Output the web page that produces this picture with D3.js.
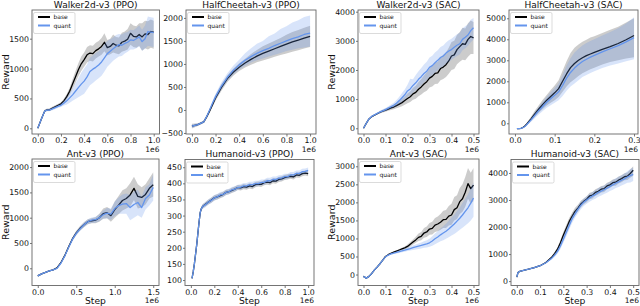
<!DOCTYPE html>
<html><head><meta charset="utf-8">
<script src="https://cdn.jsdelivr.net/npm/d3@7"></script>
<style>body{margin:0;background:#fff} svg{display:block} text{font-family:"DejaVu Sans",sans-serif;fill:#111}</style>
</head><body><svg id="c" width="640" height="306"></svg>
<script>
// ---------- DATA (steps in units of 1e6) ----------
// Walker2d-v3 (PPO)
const wppoX = [0,0.03,0.06,0.08,0.1,0.12,0.15,0.18,0.2,0.225,0.25,0.275,0.3,0.325,0.35,0.375,0.4,0.425,0.45,0.475,0.5,0.525,0.55,0.575,0.6,0.625,0.65,0.675,0.7,0.725,0.75,0.775,0.8,0.825,0.85,0.875,0.9,0.925,0.95,0.975,1.0];
const wppoBase = [0,150,290,310,310,330,360,390,410,460,530,620,740,860,980,1080,1150,1230,1260,1250,1300,1330,1370,1440,1350,1370,1420,1390,1380,1440,1460,1490,1590,1540,1530,1570,1530,1580,1570,1620,1610];
const wppoBaseLo = [0,130,270,290,290,305,335,365,385,425,485,560,660,760,870,960,1030,1100,1130,1120,1170,1200,1230,1290,1220,1240,1270,1250,1240,1280,1300,1320,1400,1360,1350,1380,1300,1340,1320,1350,1330];
const wppoBaseHi = [0,170,310,330,330,355,385,415,435,495,575,680,820,960,1090,1200,1270,1360,1390,1380,1430,1460,1510,1590,1480,1500,1570,1530,1520,1600,1620,1660,1760,1720,1710,1760,1760,1800,1790,1820,1800];
const wppoQuant = [0,150,290,305,305,320,345,370,385,420,460,510,560,620,680,740,790,860,950,990,1020,1060,1110,1180,1250,1290,1330,1370,1400,1390,1420,1440,1480,1470,1500,1530,1450,1500,1620,1610,1600];
const wppoQuantLo = [0,130,270,285,285,300,320,345,355,380,400,430,460,490,520,550,580,650,720,760,800,840,880,950,1030,1080,1130,1170,1200,1210,1250,1280,1320,1320,1340,1370,1300,1330,1380,1370,1360];
const wppoQuantHi = [0,170,310,325,325,340,370,395,415,460,520,590,660,750,840,930,1000,1070,1180,1220,1260,1290,1340,1410,1460,1490,1520,1560,1580,1570,1600,1610,1650,1640,1680,1720,1650,1720,1870,1860,1850];

// HalfCheetah-v3 (PPO)
const hppoX = [0,0.05,0.1,0.125,0.15,0.175,0.2,0.25,0.3,0.35,0.4,0.45,0.5,0.55,0.6,0.65,0.7,0.75,0.8,0.85,0.9,0.95,1.0];
const hppoBase = [-350,-320,-260,-150,-20,120,260,490,680,820,930,1020,1100,1170,1230,1280,1330,1380,1430,1480,1520,1560,1600];
const hppoBaseLo = [-400,-350,-285,-185,-60,70,200,420,610,745,845,925,985,1035,1075,1115,1155,1195,1225,1265,1300,1335,1370];
const hppoBaseHi = [-300,-290,-235,-115,20,170,320,560,750,895,1015,1115,1215,1305,1385,1445,1505,1565,1635,1695,1740,1785,1830];
const hppoQuant = [-350,-320,-260,-140,0,150,290,520,710,860,980,1080,1160,1230,1290,1340,1400,1450,1500,1550,1590,1640,1670];
const hppoQuantLo = [-390,-345,-285,-170,-40,100,230,450,630,770,880,960,1030,1080,1120,1160,1200,1240,1280,1310,1340,1360,1380];
const hppoQuantHi = [-310,-295,-235,-110,40,200,350,600,800,960,1090,1230,1340,1440,1500,1600,1660,1760,1820,1900,1950,2020,2050];

// shared SAC step grid (0 .. 0.5e6)
const sacX = [0,0.0125,0.025,0.0375,0.05,0.0625,0.075,0.0875,0.1,0.1125,0.125,0.1375,0.15,0.1625,0.175,0.1875,0.2,0.2125,0.225,0.2375,0.25,0.2625,0.275,0.2875,0.3,0.3125,0.325,0.3375,0.35,0.3625,0.375,0.3875,0.4,0.4125,0.425,0.4375,0.45,0.4625,0.475,0.4875,0.5];

// Walker2d-v3 (SAC)
const wsacBase = [0,170,320,400,450,500,550,590,620,660,700,730,780,830,880,950,1020,1080,1180,1230,1340,1420,1520,1600,1720,1780,1880,1900,2050,2100,2180,2310,2480,2520,2700,2800,2900,2880,3050,3150,3100];
const wsacBaseLo = [0,160,300,380,430,470,510,545,570,600,630,650,690,720,760,810,860,900,980,1010,1100,1160,1240,1290,1400,1430,1520,1530,1650,1690,1760,1870,2000,2030,2200,2280,2350,2330,2450,2550,2550];
const wsacBaseHi = [0,180,340,420,470,530,590,640,680,720,770,820,880,950,1010,1100,1190,1270,1390,1460,1590,1690,1810,1920,2050,2130,2250,2280,2450,2510,2600,2760,2960,3000,3200,3300,3450,3420,3600,3700,3650];
const wsacQuant = [0,170,320,410,460,510,560,600,640,690,740,790,860,950,1050,1150,1280,1350,1470,1560,1680,1770,1880,1960,2090,2150,2250,2330,2430,2480,2580,2650,2700,2780,2850,2900,3050,3120,3200,3350,3450];
const wsacQuantLo = [0,160,300,390,440,480,520,560,590,630,670,710,760,830,900,980,1080,1130,1230,1300,1410,1480,1580,1650,1760,1820,1910,1980,2080,2130,2220,2280,2340,2420,2480,2530,2680,2750,2830,2950,3050];
const wsacQuantHi = [0,180,340,430,480,540,600,650,700,760,820,880,970,1080,1210,1330,1490,1700,1680,1830,1960,2070,2190,2280,2430,2490,2600,2680,2790,2840,2940,3020,3070,3150,3230,3280,3430,3500,3570,3720,3780];

// HalfCheetah-v3 (SAC)
const hsacX = [0.005,0.01,0.015,0.02,0.025,0.03,0.04,0.05,0.06,0.07,0.08,0.09,0.1,0.11,0.12,0.13,0.14,0.15,0.16,0.17,0.18,0.19,0.2,0.22,0.24,0.26,0.28,0.3];
const hsacBase = [-250,-250,-240,-200,-130,-30,200,450,680,900,1100,1280,1450,1650,2000,2350,2650,2850,3000,3120,3220,3300,3380,3520,3650,3800,3980,4180];
const hsacBaseLo = [-260,-260,-250,-220,-160,-80,100,300,500,680,850,980,1100,1250,1500,1750,1950,2100,2250,2380,2480,2570,2650,2800,2920,3000,3080,3150];
const hsacBaseHi = [-240,-240,-230,-180,-100,20,300,600,860,1120,1350,1580,1800,2050,2500,2950,3350,3600,3750,3880,3980,4080,4150,4300,4450,4600,4800,5000];
const hsacQuant = [-250,-250,-240,-210,-150,-60,150,380,600,800,1000,1170,1330,1500,1800,2150,2420,2630,2800,2940,3050,3150,3230,3400,3550,3700,3880,4080];
const hsacQuantLo = [-260,-260,-250,-230,-180,-110,60,240,420,580,740,860,980,1100,1300,1550,1750,1900,2050,2200,2300,2400,2480,2630,2750,2850,2950,3050];
const hsacQuantHi = [-240,-240,-230,-190,-120,-10,240,520,780,1020,1260,1480,1680,1900,2300,2750,3100,3370,3550,3700,3820,3920,4000,4180,4350,4520,4750,5050];

// Ant-v3 (PPO)
const appoX = [0,0.05,0.1,0.15,0.2,0.25,0.3,0.35,0.4,0.45,0.5,0.55,0.6,0.65,0.7,0.75,0.8,0.85,0.9,0.95,1.0,1.05,1.1,1.15,1.2,1.25,1.3,1.35,1.4,1.45,1.5];
const appoBase = [-150,-110,-80,-50,-30,10,110,250,420,580,700,790,860,920,940,950,1000,1080,1100,1040,1160,1250,1340,1380,1450,1580,1420,1400,1460,1580,1650];
const appoBaseLo = [-170,-125,-92,-62,-42,-5,90,225,390,545,660,745,810,870,890,890,920,980,990,920,1000,1070,1140,1180,1220,1350,1180,1200,1260,1380,1420];
const appoBaseHi = [-130,-95,-68,-38,-18,25,130,275,450,615,740,835,910,970,990,1010,1080,1180,1210,1160,1320,1430,1540,1580,1680,1810,1660,1600,1660,1780,1900];
const appoQuant = [-150,-110,-80,-50,-30,0,100,240,410,570,690,780,860,920,950,960,1000,1060,1090,1070,1180,1240,1270,1280,1200,1260,1300,1200,1380,1450,1600];
const appoQuantLo = [-170,-125,-92,-62,-42,-15,80,215,380,535,650,735,810,870,895,900,930,980,990,960,1040,1080,1080,1080,950,1000,1050,1000,1160,1240,1340];
const appoQuantHi = [-130,-95,-68,-38,-18,15,120,265,440,605,730,825,910,970,1005,1020,1070,1140,1190,1180,1320,1400,1460,1480,1450,1520,1550,1420,1600,1660,1860];

// Humanoid-v3 (PPO)
const muppoX = [0.01,0.02,0.03,0.04,0.05,0.06,0.07,0.08,0.09,0.1,0.125,0.15,0.175,0.2,0.225,0.25,0.275,0.3,0.325,0.35,0.375,0.4,0.425,0.45,0.475,0.5,0.525,0.55,0.575,0.6,0.625,0.65,0.675,0.7,0.725,0.75,0.775,0.8,0.825,0.85,0.875,0.9,0.925,0.95,0.975,1.0];
const muppoBase = [105,125,150,180,210,245,280,310,322,328,335,342,348,355,358,362,366,372,374,378,382,387,386,390,388,392,390,396,398,397,402,404,402,408,407,412,414,418,420,422,420,426,425,430,432,430];
const muppoBaseLo = [103,122,146,175,204,239,274,304,316,321,328,334,340,347,350,354,358,364,366,370,374,379,378,382,380,384,382,388,390,389,394,396,394,400,399,404,406,410,412,414,412,418,417,422,424,422];
const muppoBaseHi = [107,128,154,185,216,251,286,316,328,335,342,350,356,363,366,370,374,380,382,386,390,395,394,398,396,400,398,404,406,405,410,412,410,416,415,420,422,426,428,430,428,434,433,438,440,438];
const muppoQuant = [105,125,150,180,210,245,280,310,322,328,334,342,347,355,358,364,366,372,374,380,382,387,388,392,392,396,396,399,399,403,403,408,408,412,412,416,417,421,421,426,426,431,431,436,437,440];
const muppoQuantLo = [103,122,146,175,204,239,274,304,316,321,326,334,339,347,350,356,358,364,366,372,374,379,380,384,384,388,388,391,391,395,395,400,400,404,404,408,409,413,413,418,418,423,423,428,429,431];
const muppoQuantHi = [107,128,154,185,216,251,286,316,328,335,343,351,356,364,367,373,375,381,383,389,391,396,397,401,401,405,405,408,408,412,412,417,417,421,421,425,426,430,430,435,435,440,440,445,446,449];

// Ant-v3 (SAC)  (x = sacX)
const asacBase = [-50,-100,-50,30,130,210,300,400,500,550,590,620,650,680,710,740,780,840,900,960,1030,1060,1150,1180,1260,1280,1370,1400,1450,1520,1530,1620,1650,1800,1850,2020,2100,2280,2520,2380,2480];
const asacBaseLo = [-70,-115,-65,15,115,195,285,385,485,530,570,600,625,650,675,700,730,780,830,880,930,950,1020,1040,1100,1110,1180,1200,1240,1290,1290,1360,1380,1500,1540,1680,1740,1880,2100,1960,2040];
const asacBaseHi = [-30,-85,-35,45,145,225,315,415,515,570,610,640,675,710,745,780,830,900,970,1050,1140,1180,1290,1330,1430,1460,1570,1610,1680,1770,1790,1900,1960,2150,2200,2400,2500,2700,2950,2820,2950];
const asacQuant = [-50,-100,-50,30,130,210,300,400,490,540,570,595,615,635,655,675,700,720,745,765,785,805,830,850,880,930,990,1040,1100,1150,1200,1260,1330,1400,1480,1560,1650,1750,1850,1980,2120];
const asacQuantLo = [-70,-115,-65,15,115,195,285,385,475,525,550,570,585,600,615,630,650,665,680,695,710,720,740,750,770,800,840,880,920,950,990,1030,1080,1120,1180,1240,1300,1360,1420,1500,1600];
const asacQuantHi = [-30,-85,-35,45,145,225,315,415,505,555,590,620,645,670,695,720,750,775,810,835,860,890,920,950,990,1060,1140,1200,1280,1340,1410,1490,1580,1660,1760,1860,1980,2100,2220,2400,2550];

// Humanoid-v3 (SAC)
const musacX = [0,0.005,0.0125,0.025,0.05,0.075,0.1,0.125,0.15,0.1625,0.175,0.1875,0.2,0.2125,0.225,0.2375,0.25,0.2625,0.275,0.2875,0.3,0.3125,0.325,0.3375,0.35,0.3625,0.375,0.3875,0.4,0.4125,0.425,0.4375,0.45,0.4625,0.475,0.4875,0.5];
const musacBase = [150,320,360,390,440,500,570,690,880,1020,1180,1420,1700,1950,2200,2400,2580,2700,2850,2950,3030,3150,3180,3280,3320,3400,3420,3520,3560,3640,3660,3740,3790,3860,3880,3980,4100];
const musacBaseLo = [140,300,345,375,420,480,545,660,830,960,1100,1320,1580,1820,2070,2270,2450,2580,2730,2840,2920,3030,3060,3160,3200,3280,3300,3400,3440,3520,3530,3610,3660,3730,3740,3820,3900];
const musacBaseHi = [160,340,375,405,460,520,595,720,930,1080,1260,1520,1820,2080,2330,2530,2710,2820,2970,3060,3140,3270,3300,3400,3440,3520,3540,3640,3680,3760,3790,3870,3920,3990,4020,4130,4250];
const musacQuant = [150,320,360,390,440,500,570,680,850,960,1100,1300,1550,1800,2050,2300,2480,2650,2800,2920,3000,3080,3150,3200,3280,3330,3380,3440,3500,3560,3620,3670,3730,3780,3850,3900,3950];
const musacQuantLo = [140,300,345,375,420,480,545,650,800,890,1010,1190,1420,1650,1900,2150,2340,2500,2660,2780,2860,2940,3000,3050,3120,3170,3220,3270,3330,3380,3440,3480,3540,3580,3640,3650,3700];
const musacQuantHi = [160,340,375,405,460,520,595,710,900,1030,1190,1410,1680,1950,2200,2450,2620,2800,2940,3060,3140,3220,3300,3350,3440,3490,3540,3610,3670,3740,3800,3860,3920,3980,4060,4150,4200];

const seriesNames = ["base","quant"];
const titles = ["Walker2d-v3 (PPO)","HalfCheetah-v3 (PPO)","Walker2d-v3 (SAC)","HalfCheetah-v3 (SAC)","Ant-v3 (PPO)","Humanoid-v3 (PPO)","Ant-v3 (SAC)","Humanoid-v3 (SAC)"];
const xTicksPPO1 = [0,0.2,0.4,0.6,0.8,1.0];
const xTicksSAC05 = [0,0.1,0.2,0.3,0.4,0.5];
const xTicksSAC03 = [0,0.1,0.2,0.3];
const xTicksAnt = [0,0.5,1.0,1.5];

// ---------- LAYOUT ----------
const BASE_COLOR = "#000000", QUANT_COLOR = "#6495ED";
const panels = [
  {t:0, box:[32,10,159.5,134], xd:[-0.05,1.05], yd:[-95,1980], xt:xTicksPPO1, yt:[0,500,1000,1500], x:wppoX,
   b:[wppoBase,wppoBaseLo,wppoBaseHi], q:[wppoQuant,wppoQuantLo,wppoQuantHi], ylab:8.5, step:false},
  {t:1, box:[186,10,316,134], xd:[-0.05,1.05], yd:[-522,2172], xt:xTicksPPO1, yt:[-500,0,500,1000,1500,2000], x:hppoX,
   b:[hppoBase,hppoBaseLo,hppoBaseHi], q:[hppoQuant,hppoQuantLo,hppoQuantHi], ylab:null, step:false},
  {t:2, box:[358,10,479,134], xd:[-0.025,0.525], yd:[-196,4058], xt:xTicksSAC05, yt:[0,1000,2000,3000,4000], x:sacX,
   b:[wsacBase,wsacBaseLo,wsacBaseHi], q:[wsacQuant,wsacQuantLo,wsacQuantHi], ylab:335, step:false},
  {t:3, box:[509,10,638,134], xd:[-0.015,0.31], yd:[-510,5395], xt:xTicksSAC03, yt:[0,1000,2000,3000,4000,5000], x:hsacX,
   b:[hsacBase,hsacBaseLo,hsacBaseHi], q:[hsacQuant,hsacQuantLo,hsacQuantHi], ylab:null, step:false},
  {t:4, box:[32,159,159,285.5], xd:[-0.075,1.575], yd:[-340,2160], xt:xTicksAnt, yt:[0,500,1000,1500,2000], x:appoX,
   b:[appoBase,appoBaseLo,appoBaseHi], q:[appoQuant,appoQuantLo,appoQuantHi], ylab:8.5, step:true},
  {t:5, box:[185,159.5,314,285.5], xd:[-0.05,1.05], yd:[83,474], xt:xTicksPPO1, yt:[100,150,200,250,300,350,400,450], x:muppoX,
   b:[muppoBase,muppoBaseLo,muppoBaseHi], q:[muppoQuant,muppoQuantLo,muppoQuantHi], ylab:null, step:true},
  {t:6, box:[358,159,479,285.5], xd:[-0.025,0.525], yd:[-304,3202], xt:xTicksSAC05, yt:[0,500,1000,1500,2000,2500,3000], x:sacX,
   b:[asacBase,asacBaseLo,asacBaseHi], q:[asacQuant,asacQuantLo,asacQuantHi], ylab:334.5, step:true},
  {t:7, box:[511,159.5,639,285.5], xd:[-0.025,0.525], yd:[-162,4498], xt:xTicksSAC05, yt:[0,1000,2000,3000,4000], x:musacX,
   b:[musacBase,musacBaseLo,musacBaseHi], q:[musacQuant,musacQuantLo,musacQuantHi], ylab:null, step:true}
];

const svg = d3.select("#c");
const defs = svg.append("defs");
const fmtX = d3.format(".1f"), fmtY = d3.format("d");

panels.forEach((p, i) => {
  const [x0,y0,x1,y1] = p.box;
  const xs = d3.scaleLinear().domain(p.xd).range([x0,x1]);
  const ys = d3.scaleLinear().domain(p.yd).range([y1,y0]);
  defs.append("clipPath").attr("id","clip"+i).append("rect")
    .attr("x",x0).attr("y",y0).attr("width",x1-x0).attr("height",y1-y0);
  const g = svg.append("g");
  const plot = g.append("g").attr("clip-path",`url(#clip${i})`);

  const drawSeries = (arr, color, op) => {
    const pts = p.x.map((xv,k) => ({x:xv, m:arr[0][k], lo:arr[1][k], hi:arr[2][k]}));
    plot.append("path").datum(pts)
      .attr("d", d3.area().x(d=>xs(d.x)).y0(d=>ys(d.lo)).y1(d=>ys(d.hi)))
      .attr("fill", color).attr("fill-opacity", op).attr("stroke","none");
    return pts;
  };
  const drawLine = (pts, color) => {
    plot.append("path").datum(pts)
      .attr("d", d3.line().x(d=>xs(d.x)).y(d=>ys(d.m)))
      .attr("fill","none").attr("stroke",color).attr("stroke-width",1.3).attr("stroke-linejoin","round");
  };
  const bp = drawSeries(p.b, BASE_COLOR, 0.2);
  drawLine(bp, BASE_COLOR);
  const qp = drawSeries(p.q, QUANT_COLOR, 0.25);
  drawLine(qp, QUANT_COLOR);

  // axes
  const ax = g.append("g").attr("transform",`translate(0,${y1})`)
    .call(d3.axisBottom(xs).tickValues(p.xt).tickFormat(fmtX).tickSize(2.5).tickPadding(1));
  const ay = g.append("g").attr("transform",`translate(${x0},0)`)
    .call(d3.axisLeft(ys).tickValues(p.yt).tickFormat(fmtY).tickSize(2).tickPadding(1));
  [ax,ay].forEach(a => {
    a.select(".domain").remove();
    a.selectAll("line").attr("stroke","#555").attr("stroke-width",0.8);
    a.selectAll("text").attr("font-size",7.8).attr("fill","#222").attr("font-family","DejaVu Sans");
  });
  // spines
  g.append("rect").attr("x",x0).attr("y",y0).attr("width",x1-x0).attr("height",y1-y0)
    .attr("fill","none").attr("stroke","#666").attr("stroke-width",0.9);

  // title
  g.append("text").attr("x",(x0+x1)/2).attr("y",y0-2.3).attr("text-anchor","middle")
    .attr("font-size",9).text(titles[p.t]);
  // offset text
  g.append("text").attr("x",x1).attr("y",y1+17.5).attr("text-anchor","end")
    .attr("font-size",7.5).attr("fill","#222").text("1e6");
  if (p.ylab !== null) {
    g.append("text").attr("transform",`translate(${p.ylab},${(y0+y1)/2}) rotate(-90)`)
      .attr("text-anchor","middle").attr("font-size",9.5).text("Reward");
  }
  if (p.step) {
    g.append("text").attr("x",(x0+x1)/2).attr("y",y1+18.3).attr("text-anchor","middle")
      .attr("font-size",9.2).text("Step");
  }
  // legend
  const lg = g.append("g").attr("transform",`translate(${x0+1.5},${y0+2.5})`);
  lg.append("rect").attr("width",41.5).attr("height",21).attr("rx",1.5)
    .attr("fill","#fff").attr("fill-opacity",0.8).attr("stroke","#ccc").attr("stroke-width",0.7);
  [BASE_COLOR, QUANT_COLOR].forEach((c,k) => {
    const yy = 4.5 + k*8.5;
    lg.append("line").attr("x1",4.5).attr("x2",16.5).attr("y1",yy).attr("y2",yy)
      .attr("stroke",c).attr("stroke-width",2);
    lg.append("text").attr("x",20).attr("y",yy+2).attr("font-size",6).text(seriesNames[k]);
  });
});
</script></body></html>
